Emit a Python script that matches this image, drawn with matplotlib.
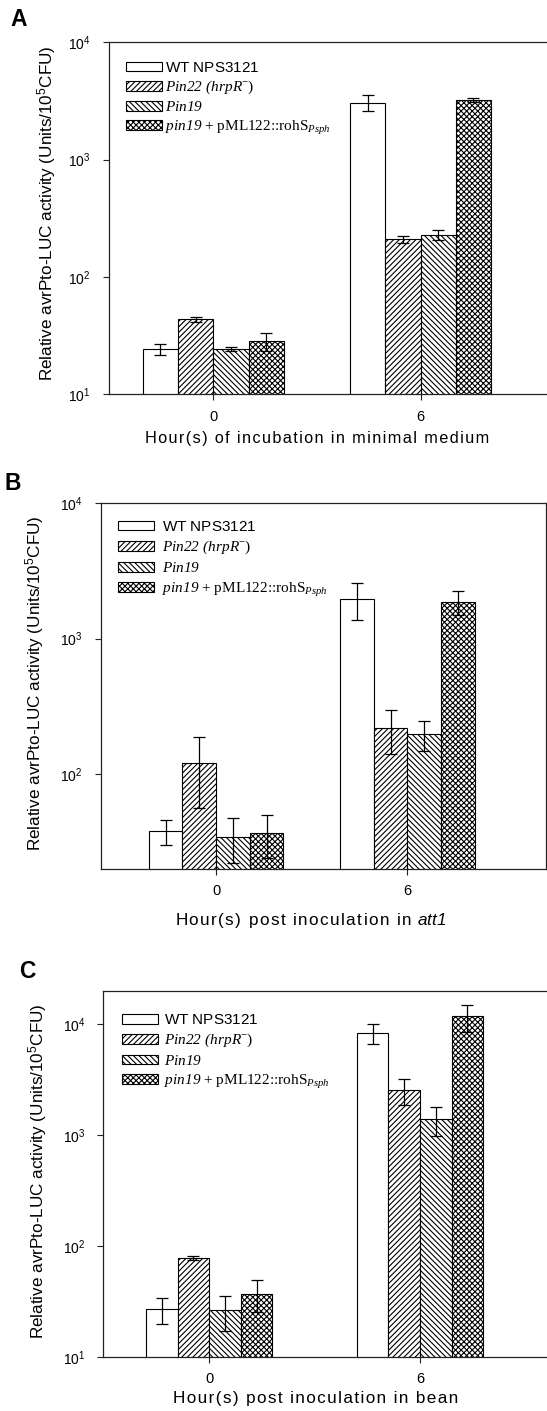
import matplotlib
matplotlib.use("Agg")
import matplotlib.pyplot as plt
import numpy as np

# ---------------- data ----------------
groups = ["0", "6"]
series_keys = ["wt", "pin22", "pin19", "pin19c"]
series_labels = [
    r"$\mathsf{WT\ NPS3121}$",
    r"$\mathcal{Pin22\ (hrpR}^{\mathrm{-}}$)",
    r"$\mathcal{Pin19}$",
    r"$\mathcal{pin19}$ + pML122::rohS$_{\mathcal{Psph}}$",
]
hatches = ["", "//////", "\\\\\\\\\\\\", "xxxxxx"]

# Panel A: minimal medium (values per series: [0 h, 6 h])
A_wt = [24.2, 3063]
A_pin22 = [43.5, 209]
A_pin19 = [24.2, 228]
A_pin19c = [28.3, 3229]
A_wt_err = [2.5, 480]
A_pin22_err = [2.0, 16]
A_pin19_err = [1.0, 23]
A_pin19c_err = [4.8, 147]

# Panel B: att1
B_wt = [37.8, 1967]
B_pin22 = [121, 218]
B_pin19 = [34.4, 197]
B_pin19c = [36.7, 1870]
B_wt_err = [8, 600]
B_pin22_err = [65, 77]
B_pin19_err = [12.6, 49]
B_pin19c_err = [13, 385]

# Panel C: bean
C_wt = [27.0, 8360]
C_pin22 = [78, 2540]
C_pin19 = [26.3, 1393]
C_pin19c = [37.2, 11800]
C_wt_err = [7, 1700]
C_pin22_err = [3.5, 660]
C_pin19_err = [9, 400]
C_pin19c_err = [12, 3200]

ylabel_txt = r"Relative avrPto-LUC activity (Units/10$^{\mathdefault{5}}$CFU)"

# ---------------- style ----------------
plt.rcParams["font.family"] = ["Liberation Sans", "DejaVu Sans"]
plt.rcParams["mathtext.fontset"] = "custom"
plt.rcParams["mathtext.rm"] = "Liberation Serif"
plt.rcParams["mathtext.it"] = "Liberation Sans:italic"
plt.rcParams["mathtext.cal"] = "Liberation Serif:italic"
plt.rcParams["mathtext.sf"] = "Liberation Sans"
plt.rcParams["mathtext.tt"] = "Liberation Sans:italic"
plt.rcParams["mathtext.bf"] = "Liberation Sans:bold"
plt.rcParams["hatch.linewidth"] = 0.8

W, H = 547, 1411
fig = plt.figure(figsize=(W / 100, H / 100), dpi=100)


def spaced(s):
    return "\u200a".join(list(s))


def panel(rect, means, errs, bw, xlim, ylim, leg_anchor, hpad, lspace):
    l, r, t, b = rect
    ax = fig.add_axes([l / W, 1 - b / H, (r - l) / W, (b - t) / H])
    ax.set_yscale("log")
    x = np.arange(len(groups))
    offs = (np.arange(4) - 1.5) * bw
    for i in range(4):
        ax.bar(x + offs[i], means[i], width=bw, color="white",
               edgecolor="black", linewidth=0.8, hatch=hatches[i],
               label=series_labels[i], zorder=2)
        ax.errorbar(x + offs[i], means[i], yerr=errs[i], fmt="none",
                    ecolor="black", elinewidth=0.9, capsize=4.5,
                    capthick=0.9, zorder=3)
    ax.set_xlim(*xlim)
    ax.set_ylim(*ylim)
    ax.set_xticks(x)
    ax.set_xticklabels(groups)
    ax.minorticks_off()
    ax.yaxis.set_minor_locator(matplotlib.ticker.NullLocator())
    ax.tick_params(axis="both", direction="out", length=4, width=0.8,
                   color="#222222")
    ax.tick_params(axis="x", pad=7, labelsize=10.5)
    ax.tick_params(axis="y", pad=9, labelsize=10)
    for sp in ax.spines.values():
        sp.set_linewidth(0.9)
        sp.set_color("#222222")
    ax.legend(loc="upper left", bbox_to_anchor=(leg_anchor[0] / W, 1 - leg_anchor[1] / H),
              bbox_transform=fig.transFigure, frameon=False, borderpad=0,
              borderaxespad=0, handlelength=2.35, handleheight=0.6,
              handletextpad=hpad, labelspacing=lspace,
              prop={"family": "Liberation Serif", "size": 11})
    return ax


# Panel A
axA = panel((109, 547, 42.3, 394.3),
            [A_wt, A_pin22, A_pin19, A_pin19c],
            [A_wt_err, A_pin22_err, A_pin19_err, A_pin19c_err],
            0.170, (-0.503, 1.61), (10, 1e4), (126, 61), 0.2, 0.26)
axA.spines["right"].set_visible(False)

# Panel B
axB = panel((100.7, 545.7, 503.3, 869),
            [B_wt, B_pin22, B_pin19, B_pin19c],
            [B_wt_err, B_pin22_err, B_pin19_err, B_pin19c_err],
            0.176, (-0.603, 1.723), (19.8, 1e4), (117.7, 520), 0.55, 0.33)

# Panel C
axC = panel((103.3, 547, 991, 1357),
            [C_wt, C_pin22, C_pin19, C_pin19c],
            [C_wt_err, C_pin22_err, C_pin19_err, C_pin19c_err],
            0.150, (-0.503, 1.603), (10, 2e4), (121.7, 1013.5), 0.45, 0.3)
axC.spines["right"].set_visible(False)

# y labels
for xc, yc in [(47, 213), (35, 683), (38, 1171)]:
    fig.text(xc / W, 1 - yc / H, ylabel_txt, rotation=90, ha="center",
             va="center", fontsize=12.3)

# x labels
fig.text(317 / W, 1 - 438 / H, spaced("Hour(s) of incubation in minimal medium"),
         ha="center", va="center", fontsize=11.7)
fig.text(311 / W, 1 - 921 / H, spaced("Hour(s) post inoculation in ") + r"$\mathtt{att1}$",
         ha="center", va="center", fontsize=12.3)
fig.text(315.5 / W, 1 - 1399 / H, spaced("Hour(s) post inoculation in bean"),
         ha="center", va="center", fontsize=12.3)

# panel letters
for lab, xc, yc in [("A", 19, 19), ("B", 13, 484), ("C", 27, 971)]:
    fig.text(xc / W, 1 - yc / H, lab, ha="center", va="center",
             fontsize=16.5, fontweight="bold")

fig.savefig("out.png", dpi=100)
